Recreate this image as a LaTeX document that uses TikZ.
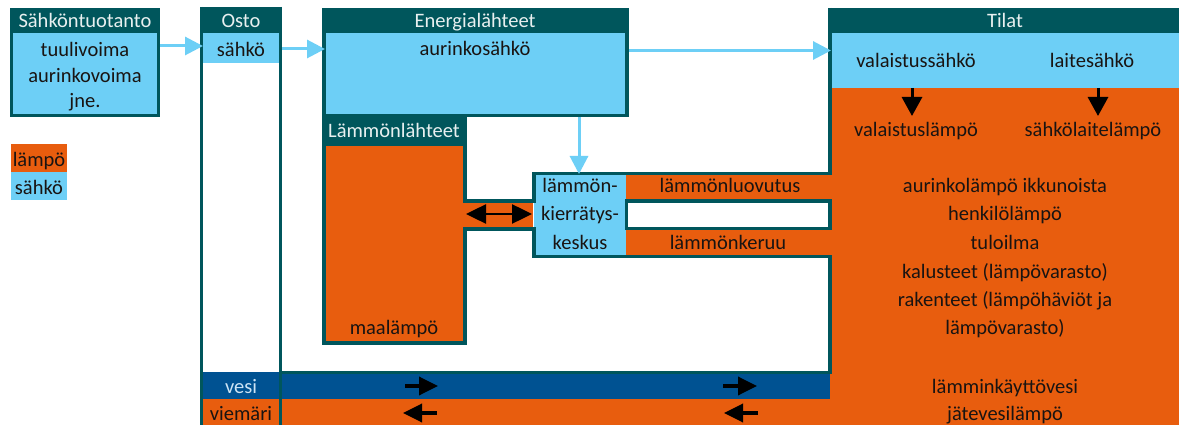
\documentclass[tikz,border=0pt]{standalone}
\usepackage{fontspec}
\setmainfont{Carlito}
\usetikzlibrary{arrows.meta}
\definecolor{dteal}{RGB}{0,86,92}
\definecolor{lblue}{RGB}{109,207,246}
\definecolor{orng}{RGB}{232,93,14}
\definecolor{wblue}{RGB}{0,82,146}
\definecolor{ink}{RGB}{25,20,18}
\definecolor{hdr}{RGB}{232,240,240}
\definecolor{vtxt}{RGB}{205,228,245}
\begin{document}
\begin{tikzpicture}[x=1pt,y=-1pt,
  every node/.style={font=\fontsize{20.5}{24}\selectfont, inner sep=0pt, outer sep=0pt, text=ink},
  lbl/.style={anchor=base},
  hd/.style={anchor=base, text=hdr},
  wall/.style={draw=dteal, line width=3.5pt},
  osline/.style={draw=dteal, line width=3pt},
  elarrow/.style={draw=lblue, line width=3pt, -{Triangle[length=18pt,width=18pt]}},
  blkarrow/.style={draw=black, line width=3pt, -{Triangle[length=19pt,width=20pt]}},
  dblarrow/.style={draw=black, line width=2.5pt, {Triangle[length=20pt,width=19pt]}-{Triangle[length=20pt,width=19pt]}},
  flowarrow/.style={draw=black, line width=3.5pt, -{Triangle[length=19pt,width=18pt]}},
]
% background / bounding box
\fill[white] (0,0) rectangle (1179,425);
\useasboundingbox (0,0) rectangle (1179,425);

% Tilat area
\fill[orng] (830,88) rectangle (1179,425);
\fill[lblue] (830,33) rectangle (1179,88);
\fill[dteal] (828,8) rectangle (1179,33);

% water rows
\fill[wblue] (203,372) rectangle (830,399);
\fill[orng] (203,399) rectangle (1179,425);

% heat recovery strips
\fill[lblue] (534,173) rectangle (626,257);
\fill[orng] (626,175) rectangle (832,199);
\fill[orng] (626,230) rectangle (832,256);

% Sähköntuotanto
\fill[dteal] (10,8) rectangle (160,117);
\fill[lblue] (13,33) rectangle (157,114);

% legend
\fill[orng] (11,144) rectangle (67,172);
\fill[lblue] (11,172) rectangle (67,200);

% Osto
\fill[dteal] (200,7) rectangle (282,33);
\fill[lblue] (203,33) rectangle (279,63);

% Energialähteet
\fill[dteal] (322,8) rectangle (629,117);
\fill[lblue] (326,33) rectangle (625,114);

% Lämmönlähteet
\fill[dteal] (322,117) rectangle (467,345);
\fill[orng] (326,146) rectangle (463,341);
\fill[orng] (463,203) rectangle (533,227);

% walls
\draw[wall] (830,8) -- (830,173.5) -- (534,173.5) -- (534,201) -- (463,201);
\draw[wall] (463,229) -- (534,229) -- (534,256.7) -- (830,256.7) -- (830,372.5) -- (280,372.5);
\draw[wall, fill=white] (626.3,201) rectangle (830,228.5);
\draw[osline] (201.3,7) -- (201.3,425);
\draw[osline] (280.2,7) -- (280.2,425);

% texts
\node[hd] (tprod) at (85,28) {Sähköntuotanto};
\node[lbl] (t1) at (85,57) {tuulivoima};
\node[lbl] (t2) at (85,83) {aurinkovoima};
\node[lbl] (t3) at (85,108) {jne.};
\node[lbl] (leg1) at (39,167) {lämpö};
\node[lbl] (leg2) at (39,194) {sähkö};
\node[hd] (tosto) at (241,28) {Osto};
\node[lbl] (tsahko) at (241,57) {sähkö};
\node[hd] (tenergy) at (475,28) {Energialähteet};
\node[lbl] (taur) at (475,56) {aurinkosähkö};
\node[hd] (theat) at (394,138) {Lämmönlähteet};
\node[lbl] (tmaa) at (394,334) {maalämpö};
\node[lbl] (tk1) at (580,193) {lämmön-};
\node[lbl] (tk2) at (580,221) {kierrätys-};
\node[lbl] (tk3) at (580,249) {keskus};
\node[lbl] (tluov) at (730,193) {lämmönluovutus};
\node[lbl] (tker) at (728,249) {lämmönkeruu};
\node[hd] (ttilat) at (1005,28) {Tilat};
\node[lbl] (tval) at (916,68) {valaistussähkö};
\node[lbl] (tlait) at (1092,68) {laitesähkö};
\node[lbl] (tvall) at (916,137) {valaistuslämpö};
\node[lbl] (tlaitl) at (1093,137) {sähkölaitelämpö};
\node[lbl] (r1) at (1005,193) {aurinkolämpö ikkunoista};
\node[lbl] (r2) at (1005,221) {henkilölämpö};
\node[lbl] (r3) at (1005,249) {tuloilma};
\node[lbl] (r4) at (1005,278) {kalusteet (lämpövarasto)};
\node[lbl] (r5) at (1005,306) {rakenteet (lämpöhäviöt ja};
\node[lbl] (r6) at (1005,334) {lämpövarasto)};
\node[lbl, text=vtxt] (tvesi) at (241,393) {vesi};
\node[lbl] (tviem) at (241,420) {viemäri};
\node[lbl] (tlkv) at (1005,393) {lämminkäyttövesi};
\node[lbl] (tjv) at (1005,420) {jätevesilämpö};

% arrow end points
\coordinate (a1s) at (160,46);   \coordinate (a1e) at (203,46);
\coordinate (a2s) at (282,49);   \coordinate (a2e) at (325,49);
\coordinate (a3s) at (629,50.5); \coordinate (a3e) at (831,50.5);
\coordinate (a4s) at (579,117);  \coordinate (a4e) at (579,174);
\coordinate (d1) at (466,214);   \coordinate (d2) at (532,214);
\coordinate (v1s) at (912,88);   \coordinate (v1e) at (912,116);
\coordinate (v2s) at (1098,88);  \coordinate (v2e) at (1098,116);
\coordinate (w1s) at (405,386);  \coordinate (w1e) at (438,386);
\coordinate (w2s) at (723,386);  \coordinate (w2e) at (757,386);
\coordinate (s1s) at (437,413);  \coordinate (s1e) at (403,413);
\coordinate (s2s) at (758,413);  \coordinate (s2e) at (724,413);

\draw[elarrow] (a1s) -- (a1e);
\draw[elarrow] (a2s) -- (a2e);
\draw[elarrow] (a3s) -- (a3e);
\draw[elarrow] (a4s) -- (a4e);
\draw[dblarrow] (d1) -- (d2);
\draw[blkarrow] (v1s) -- (v1e);
\draw[blkarrow] (v2s) -- (v2e);
\draw[flowarrow] (w1s) -- (w1e);
\draw[flowarrow] (w2s) -- (w2e);
\draw[flowarrow] (s1s) -- (s1e);
\draw[flowarrow] (s2s) -- (s2e);
\end{tikzpicture}
\end{document}
